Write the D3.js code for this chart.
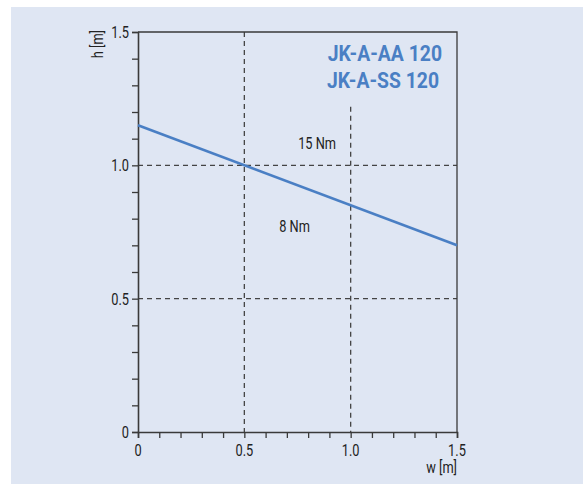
<!DOCTYPE html>
<html>
<head>
<meta charset="utf-8">
<script src="https://cdn.jsdelivr.net/npm/d3@7"></script>
<style>
  body { margin: 0; background: #fff; }
  text { font-family: "Roboto", "Liberation Sans", sans-serif; }
</style>
</head>
<body>
<div id="chart"></div>
<script>
const ancho = 583;
const alto = 484;
const margen = { superior: 32, inferior: 52, izquierdo: 138, derecho: 126 };

// datos
const xTicks = [0, 0.5, 1.0, 1.5];
const xTickLabels = ["0", "0.5", "1.0", "1.5"];
const yTicks = [0, 0.5, 1.0, 1.5];
const yTickLabels = ["0", "0.5", "1.0", "1.5"];
const lineaW = [0, 1.5];
const lineaH = [1.15, 0.70];
const gridX = [0.5, 1.0];
const gridY = [0.5, 1.0];
const modelos = ["JK-A-AA 120", "JK-A-SS 120"];
const zonas = [
  { texto: "15 Nm", w: 0.842, h: 1.06 },
  { texto: "8 Nm", w: 0.736, h: 0.75 },
];

const anchoPlot = ancho - margen.izquierdo - margen.derecho;
const altoPlot = alto - margen.superior - margen.inferior;
const estrecho = 0.8; // letra condensada

const svg = d3.select("#chart").append("svg")
  .attr("width", ancho).attr("height", alto);

// fondo
svg.append("rect").attr("x", 11).attr("y", 7)
  .attr("width", ancho - 11).attr("height", alto - 7)
  .attr("fill", "#dfe6f3");

const g = svg.append("g")
  .attr("transform", `translate(${margen.izquierdo}, ${margen.superior})`);

const x = d3.scaleLinear().domain([0, 1.5]).range([0, anchoPlot]);
const y = d3.scaleLinear().domain([0, 1.5]).range([altoPlot, 0]);

const gris = "#3a3a3a";

// texto condensado en (px, py)
function texto(sel, px, py, anchor, size, sx = estrecho) {
  return sel.append("text")
    .attr("transform", `translate(${px}, ${py}) scale(${sx}, 1)`)
    .attr("text-anchor", anchor).attr("font-size", size).attr("fill", "#222");
}

// rejilla discontinua
g.selectAll(".gy").data(gridY).enter().append("line")
  .attr("x1", 0).attr("x2", anchoPlot)
  .attr("y1", d => y(d)).attr("y2", d => y(d))
  .attr("stroke", "#444").attr("stroke-width", 1.3)
  .attr("stroke-dasharray", "5,4");
g.selectAll(".gx").data(gridX).enter().append("line")
  .attr("x1", d => x(d)).attr("x2", d => x(d))
  .attr("y1", d => d === 1.0 ? y(1.22) : 0).attr("y2", altoPlot)
  .attr("stroke", "#444").attr("stroke-width", 1.3)
  .attr("stroke-dasharray", "5,4");

// marco superior y derecho
g.append("path")
  .attr("d", `M0,0H${anchoPlot}V${altoPlot}`)
  .attr("fill", "none").attr("stroke", gris).attr("stroke-width", 1.3);

// ejes
const ejeX = d3.axisBottom(x).tickValues(d3.range(0, 16).map(i => i / 10))
  .tickSize(6).tickFormat("");
const ejeY = d3.axisLeft(y).tickValues(d3.range(0, 16).map(i => i / 10))
  .tickSize(6).tickFormat("");
const grupoX = g.append("g").attr("transform", `translate(0, ${altoPlot})`).call(ejeX);
const grupoY = g.append("g").call(ejeY);
[grupoX, grupoY].forEach(a => {
  a.select(".domain").attr("stroke", gris).attr("stroke-width", 1.6);
  a.selectAll(".tick line").attr("stroke", gris).attr("stroke-width", 1.3);
});

// etiquetas de ticks
xTicks.forEach((d, i) => texto(g, x(d), altoPlot + 24, "middle", 16).text(xTickLabels[i]));
yTicks.forEach((d, i) => texto(g, -9, y(d) + 6, "end", 16).text(yTickLabels[i]));

// titulos de ejes
texto(g, anchoPlot, altoPlot + 41, "end", 16).text("w [m]");
g.append("text")
  .attr("transform", `translate(${-35}, ${-2}) rotate(-90) scale(${estrecho}, 1)`)
  .attr("text-anchor", "end").attr("font-size", 16).attr("fill", "#222")
  .text("h [m]");

// linea
const linea = d3.line().x(d => x(d[0])).y(d => y(d[1]));
g.append("path")
  .datum(lineaW.map((w, i) => [w, lineaH[i]]))
  .attr("fill", "none").attr("stroke", "#4a7fc4").attr("stroke-width", 2.6)
  .attr("d", linea);

// zonas
zonas.forEach(d => texto(g, x(d.w), y(d.h), "middle", 16).text(d.texto));

// modelos
modelos.forEach((d, i) =>
  texto(g, anchoPlot - 15 - i * 3, 29 + i * 27, "end", 22, 0.88)
    .attr("font-weight", "bold").attr("fill", "#4a7fc4").text(d));
</script>
</body>
</html>
